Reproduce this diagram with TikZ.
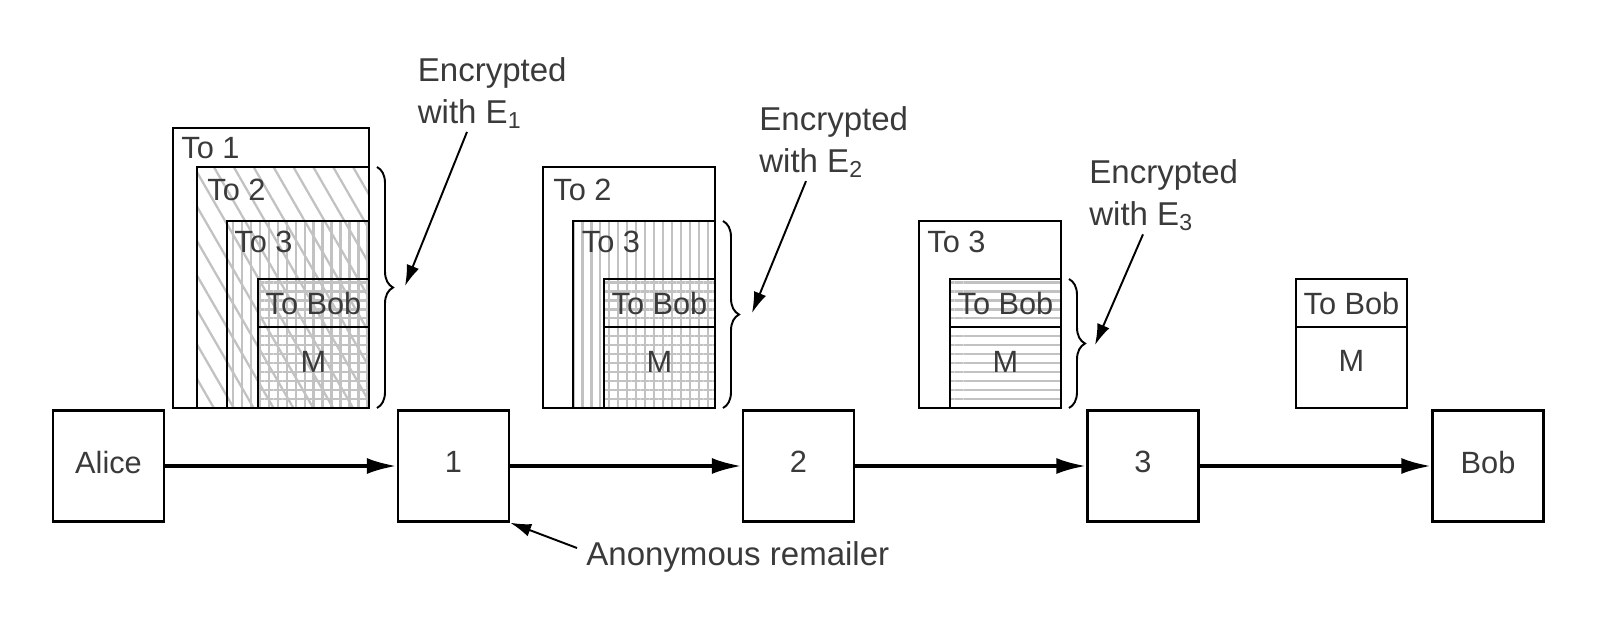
\documentclass[tikz,border=0pt]{standalone}
\usepackage{fontspec}
\setmainfont{Liberation Sans}
\usetikzlibrary{arrows.meta,patterns.meta,decorations.pathreplacing}
\definecolor{inkgray}{HTML}{3A3A3A}
\definecolor{hatchgray}{HTML}{C2C2C2}
\newcommand{\layerbox}[3]% left, top, right
{(#1,#2) rectangle (#3,408)
}

\begin{document}
\begin{tikzpicture}[x=0.02cm,y=-0.02cm,
  hop/.style={draw,line width=1.4pt,minimum size=2.22cm,inner sep=0pt,text depth=0.16cm,text=inkgray,font=\fontsize{17.5}{21}\selectfont},
  layer/.style={draw,line width=1.1pt},
  tag/.style={anchor=base west,inner sep=0pt,text=inkgray,font=\fontsize{17.5}{21}\selectfont},
  field/.style={anchor=base,inner sep=0pt,text=inkgray,font=\fontsize{17.5}{21}\selectfont},
  note/.style={anchor=north west,align=left,inner sep=0pt,text=inkgray,font=\fontsize{18.8}{23.8}\selectfont},
  diaghatch/.style={pattern={Lines[angle=-60,distance=9.8pt,line width=1.3pt]},pattern color=hatchgray},
  verthatch/.style={pattern={Lines[angle=90,distance=5.1pt,line width=1.3pt]},pattern color=hatchgray},
  horizhatch/.style={pattern={Lines[angle=0,distance=5.1pt,line width=1.3pt]},pattern color=hatchgray},
  crypt/.style={decorate,decoration={brace,amplitude=0.32cm},line width=1.1pt},
  fwd/.style={-{Latex[length=0.6cm,width=0.32cm]},line width=2.1pt},
  pointer/.style={-{Latex[length=0.42cm,width=0.26cm]},line width=1.1pt}]
  \useasboundingbox (0,0) rectangle (1600,623);

  \node[hop] (alice) at (108.5,466) {Alice};
  \node[hop] (r1) at (453.5,466) {1};
  \node[hop] (r2) at (798.5,466) {2};
  \node[hop] (r3) at (1143,466) {3};
  \node[hop] (bob) at (1488,466) {Bob};
  \draw[fwd] (alice) -- (r1);
  \draw[fwd] (r1) -- (r2);
  \draw[fwd] (r2) -- (r3);
  \draw[fwd] (r3) -- (bob);

  \fill[diaghatch] \layerbox{197}{167}{369};
  \fill[verthatch] \layerbox{227}{221}{369};
  \fill[horizhatch] \layerbox{258}{279}{369};
  \draw[layer] \layerbox{173}{128}{369};
  \draw[layer] \layerbox{197}{167}{369};
  \draw[layer] \layerbox{227}{221}{369};
  \draw[layer] \layerbox{258}{279}{369} (258,327) -- (369,327);
  \node[tag] (m1to1) at (181,158) {To 1};
  \node[tag] (m1to2) at (207,200) {To 2};
  \node[tag] (m1to3) at (234,252) {To 3};
  \node[field] (m1tobob) at (313.5,314) {To Bob};
  \node[field] (m1m) at (313.5,372) {M};

  \fill[verthatch] \layerbox{573}{221}{715};
  \fill[horizhatch] \layerbox{604}{279}{715};
  \draw[layer] \layerbox{543}{167}{715};
  \draw[layer] \layerbox{573}{221}{715};
  \draw[layer] \layerbox{604}{279}{715} (604,327) -- (715,327);
  \node[tag] (m2to2) at (553,200) {To 2};
  \node[tag] (m2to3) at (581.5,252) {To 3};
  \node[field] (m2tobob) at (659.5,314) {To Bob};
  \node[field] (m2m) at (659.5,372) {M};

  \fill[horizhatch] \layerbox{950}{279}{1061};
  \draw[layer] \layerbox{919}{221}{1061};
  \draw[layer] \layerbox{950}{279}{1061} (950,327) -- (1061,327);
  \node[tag] (m3to3) at (927,252) {To 3};
  \node[field] (m3tobob) at (1005.5,314) {To Bob};
  \node[field] (m3m) at (1005.5,372) {M};

  \draw[layer] \layerbox{1296}{279}{1407} (1296,327) -- (1407,327);
  \node[field] (m4tobob) at (1351.5,314) {To Bob};
  \node[field] (m4m) at (1351.5,371) {M};

  \draw[crypt] (377,167) -- (377,408);
  \draw[crypt] (723,221) -- (723,408);
  \draw[crypt] (1069,279) -- (1069,408);
  \coordinate (e1tip) at (405,286);
  \coordinate (e2tip) at (752,313);
  \coordinate (e3tip) at (1095,345);
  \node[note] (e1) at (417.5,57) {Encrypted\\with E\textsubscript{1}};
  \node[note] (e2) at (759,106) {Encrypted\\with E\textsubscript{2}};
  \node[note] (e3) at (1089,159) {Encrypted\\with E\textsubscript{3}};
  \draw[pointer] ([xshift=0.99cm,yshift=-0.06cm]e1.south west) -- (e1tip);
  \draw[pointer] ([xshift=0.94cm,yshift=-0.06cm]e2.south west) -- (e2tip);
  \draw[pointer] ([xshift=1.08cm,yshift=-0.06cm]e3.south west) -- (e3tip);

  \node[tag,font=\fontsize{18.8}{23.8}\selectfont] (anon) at (586,565) {Anonymous remailer};
  \draw[pointer] ([xshift=-0.18cm,yshift=0.34cm]anon.base west) -- (r1.south east);
\end{tikzpicture}
\end{document}
